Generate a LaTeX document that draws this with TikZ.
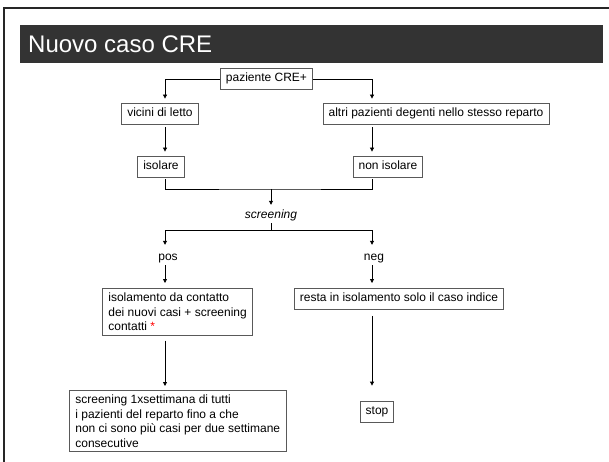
\documentclass[tikz,border=0pt]{standalone}
\usepackage{fontspec}
\setmainfont{Liberation Sans}
\usepackage{tikz}
\usetikzlibrary{arrows.meta, positioning, calc}

\tikzset{
  casella/.style={draw=black!65, line width=0.8pt, fill=white, inner xsep=5.5pt, inner ysep=4.5pt,
    text height=9pt, text depth=3pt, font=\fontsize{12}{14.5}\selectfont},
  casellalunga/.style={draw=black!65, line width=0.8pt, fill=white, inner xsep=6pt, inner ysep=4.5pt,
    align=left, font=\fontsize{12}{14.5}\selectfont},
  etichetta/.style={inner sep=2pt, text height=9pt, text depth=3pt, font=\fontsize{12}{14.5}\selectfont},
  freccia/.style={-{Triangle[length=4pt,width=4pt]}, line width=0.8pt, shorten >=4pt},
  linea/.style={line width=0.8pt}
}

\begin{document}
\begin{tikzpicture}[x=1pt, y=-1pt]
    % Parametri
    \def\colSx{165}   % colonna sinistra
    \def\colDx{372}   % colonna destra
    \def\colC{271}    % colonna centrale

    \useasboundingbox (0,0) rectangle (609,462);

    % Cornice e titolo
    \draw[line width=2pt, black!85] (4,462) -- (4,8) -- (609,8);
    \fill[black!80] (20,25) rectangle (603,63);
    \node[anchor=base west, text=white, inner sep=0pt, font=\fontsize{24}{28}\selectfont] (titolo) at (28,53) {Nuovo caso CRE};

    \coordinate (sx) at (\colSx,0);
    \coordinate (dx) at (\colDx,0);
    \coordinate (unione) at (\colC,189);
    \coordinate (bivio) at (\colC,230);

    % Caselle
    \node[casella] (paziente) at (266.5,79) {paziente CRE+};
    \node[casella] (vicini) at (160,113.5) {vicini di letto};
    \node[casella] (altri) at (436,113.5) {altri pazienti degenti nello stesso reparto};
    \node[casella] (isolare) at (161,166.5) {isolare};
    \node[casella] (nonisolare) at (388,166.5) {non isolare};
    \node[etichetta, font=\fontsize{12}{14.5}\selectfont\itshape] (screening) at (\colC,215) {screening};
    \node[etichetta] (pos) at (168,257) {pos};
    \node[etichetta] (neg) at (374,257) {neg};
    \node[casellalunga, anchor=north west] (isolamento) at (102,288)
        {isolamento da contatto\\dei nuovi casi + screening\\contatti \textcolor{red}{*}};
    \node[casella, anchor=north west] (resta) at (294,288) {resta in isolamento solo il caso indice};
    \node[casellalunga, anchor=north west] (settimanale) at (69,390)
        {screening 1xsettimana di tutti\\i pazienti del reparto fino a che\\non ci sono più casi per due settimane\\consecutive};
    \node[casella] (stop) at (377,411.5) {stop};

    % Collegamenti
    \draw[freccia] (paziente.west) -| (vicini.north -| sx);
    \draw[freccia] (paziente.east) -| (altri.north -| dx);
    \draw[freccia, shorten <=3pt] (vicini.south -| sx) -- (isolare.north -| sx);
    \draw[freccia, shorten <=3pt] (altri.south -| dx) -- (nonisolare.north -| dx);
    \draw[linea, shorten <=2pt, shorten >=2pt] (isolare.south -| sx) |- (unione) -| (nonisolare.south -| dx);
    \draw[freccia, shorten >=2pt] (unione) -- (screening.north);
    \draw[linea] (screening.south) -- (bivio);
    \draw[freccia] (bivio) -| (pos.north -| sx);
    \draw[freccia] (bivio) -| (neg.north -| dx);
    \draw[freccia, shorten >=5pt] (pos.south -| sx) -- (isolamento.north -| sx);
    \draw[freccia, shorten >=5pt] (neg.south -| dx) -- (resta.north -| dx);
    \draw[freccia, shorten <=5pt] (isolamento.south -| sx) -- (settimanale.north -| sx);
    \draw[freccia, shorten <=6pt, shorten >=15pt] (resta.south -| dx) -- (stop.north -| dx);
\end{tikzpicture}
\end{document}
